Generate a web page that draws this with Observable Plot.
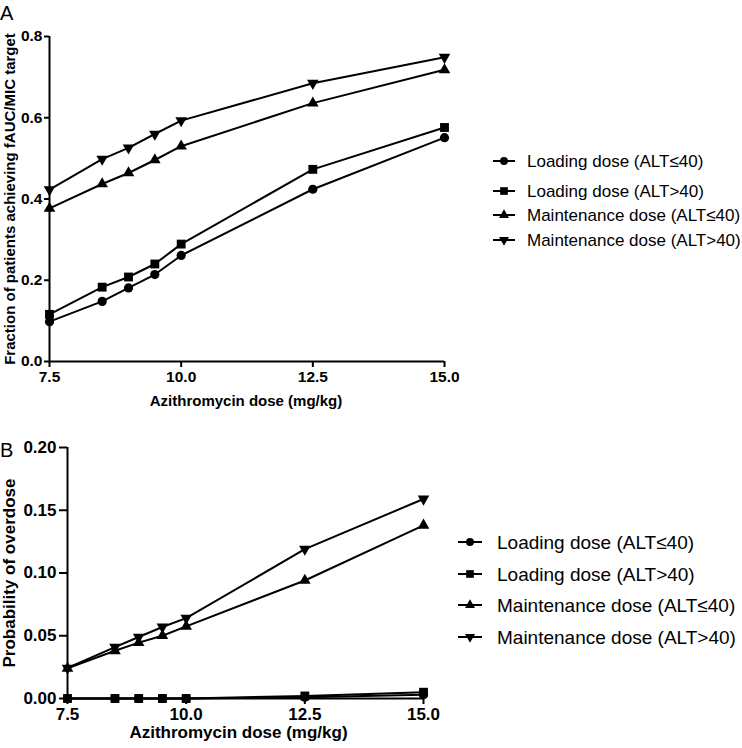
<!DOCTYPE html>
<html>
<head>
<meta charset="utf-8">
<script src="https://cdn.jsdelivr.net/npm/d3@7"></script>
<script src="https://cdn.jsdelivr.net/npm/@observablehq/plot@0.6"></script>
<style>
  html, body { margin: 0; padding: 0; background: #fff; }
  #root { width: 742px; height: 748px; overflow: hidden; }
  svg { display: block; }
</style>
</head>
<body>
<div id="root"></div>
<script>
// ---------- data ----------
const doses = [7.5, 8.5, 9, 9.5, 10, 12.5, 15];
const seriesNames = ["Loading dose (ALT≤40)", "Loading dose (ALT>40)", "Maintenance dose (ALT≤40)", "Maintenance dose (ALT>40)"];
const seriesSymbols = ["circle", "square", "triangle", "triangle-down"];

// Panel A: fraction of patients achieving fAUC/MIC target
const targetLoadLow   = [0.098, 0.148, 0.181, 0.214, 0.261, 0.424, 0.551];
const targetLoadHigh  = [0.116, 0.183, 0.208, 0.240, 0.289, 0.473, 0.576];
const targetMaintLow  = [0.377, 0.437, 0.464, 0.496, 0.530, 0.636, 0.718];
const targetMaintHigh = [0.423, 0.498, 0.526, 0.560, 0.593, 0.685, 0.749];

// Panel B: probability of overdose
const overLoadLow   = [0, 0, 0, 0, 0, 0.001, 0.003];
const overLoadHigh  = [0, 0, 0, 0, 0, 0.002, 0.005];
const overMaintLow  = [0.024, 0.038, 0.0445, 0.050, 0.0575, 0.094, 0.138];
const overMaintHigh = [0.0243, 0.041, 0.049, 0.057, 0.064, 0.119, 0.159];

const xTicks = [7.5, 10, 12.5, 15];
const yTicksA = [0, 0.2, 0.4, 0.6, 0.8];
const yTicksB = [0, 0.05, 0.10, 0.15, 0.20];

const panelLetters = ["A", "B"];
const xTitle = "Azithromycin dose (mg/kg)";
const yTitleA = "Fraction of patients achieving fAUC/MIC target";
const yTitleB = "Probability of overdose";

// ---------- helpers ----------
const FONT = "'Liberation Sans', Arial, Helvetica, sans-serif";

const triangleDown = {
  draw(context, size) {
    const sqrt3 = Math.sqrt(3);
    const y = -Math.sqrt(size / (sqrt3 * 3));
    context.moveTo(0, -y * 2);
    context.lineTo(-sqrt3 * y, y);
    context.lineTo(sqrt3 * y, y);
    context.closePath();
  }
};
function symbolFor(name) {
  if (name === "triangle-down") return triangleDown;
  return name;
}
function d3SymbolFor(name) {
  if (name === "triangle-down") return triangleDown;
  if (name === "circle") return d3.symbolCircle;
  if (name === "square") return d3.symbolSquare;
  return d3.symbolTriangle;
}
const rFor = {circle: 4.6, square: 5.0, triangle: 4.3, "triangle-down": 4.3};

function toRows(values) {
  return values.map((vals, i) => doses.map((d, j) => ({series: seriesNames[i], sym: seriesSymbols[i], dose: d, value: vals[j]}))).flat();
}

function panel(opts) {
  const rows = toRows(opts.values);
  const marks = [
    Plot.ruleY([opts.yDomain[0]], {stroke: "#000", strokeWidth: 2}),
    Plot.ruleX([opts.xDomain[0]], {stroke: "#000", strokeWidth: 2}),
    Plot.axisX({ticks: xTicks, tickFormat: d3.format(".1f"), tickSize: opts.tickSizeX, tickPadding: opts.tickPadX,
      fontSize: opts.tickFont, fontWeight: "bold", strokeWidth: 2, label: null}),
    Plot.axisY({ticks: opts.yTicks, tickFormat: d3.format(opts.yFormat), tickSize: opts.tickSizeY, tickPadding: opts.tickPadY,
      fontSize: opts.tickFont, fontWeight: "bold", strokeWidth: 2, label: null}),
    Plot.line(rows, {x: "dose", y: "value", z: "series", stroke: "#000", strokeWidth: 2}),
    ...seriesSymbols.map(s => Plot.dot(rows.filter(d => d.sym === s),
      {x: "dose", y: "value", symbol: symbolFor(s), r: rFor[s], fill: "#000", stroke: "none"})),
    Plot.text([opts.yTitle], {frameAnchor: "left", dx: opts.yTitleDx, rotate: -90, textAnchor: "middle",
      fontSize: opts.titleFont, fontWeight: "bold", fill: "#000"}),
    Plot.text([xTitle], {frameAnchor: "bottom", dy: opts.xTitleDy, dx: opts.xTitleDx, textAnchor: "middle", lineAnchor: "middle",
      fontSize: opts.titleFont, fontWeight: "bold", fill: "#000"})
  ];
  const svg = Plot.plot({
    width: 742,
    height: opts.height,
    marginTop: opts.mt, marginBottom: opts.mb, marginLeft: opts.ml, marginRight: opts.mr,
    style: {fontFamily: FONT, color: "#000", background: "#fff", overflow: "visible"},
    x: {domain: opts.xDomain},
    y: {domain: opts.yDomain},
    marks
  });

  const sel = d3.select(svg);
  // panel letter
  sel.append("text").attr("x", 0).attr("y", opts.letterY).attr("text-anchor", "start")
    .attr("font-family", FONT).attr("font-size", 20).attr("fill", "#000").text(opts.letter);

  // legend
  const lg = sel.append("g").attr("font-family", FONT).attr("font-size", opts.legendFont)
    .attr("fill", "#000").attr("text-anchor", "start");
  seriesNames.forEach((name, i) => {
    const y = opts.legendY[i];
    const g = lg.append("g").attr("transform", `translate(0,${y})`);
    g.append("line").attr("x1", opts.legendX).attr("x2", opts.legendX + opts.legendLineW)
      .attr("stroke", "#000").attr("stroke-width", 2);
    const s = seriesSymbols[i];
    g.append("path").attr("transform", `translate(${opts.legendX + opts.legendLineW / 2},0)`)
      .attr("d", d3.symbol(d3SymbolFor(s), Math.PI * rFor[s] * rFor[s] * 0.75)()).attr("fill", "#000");
    g.append("text").attr("x", opts.legendTextX).attr("dy", "0.35em").attr("text-anchor", "start").text(name);
  });
  return svg;
}

const root = document.getElementById("root");

root.appendChild(panel({
  values: [targetLoadLow, targetLoadHigh, targetMaintLow, targetMaintHigh],
  height: 412, mt: 36, mb: 51, ml: 49, mr: 298,
  xDomain: [7.5, 15], yDomain: [0, 0.8], yTicks: yTicksA, yFormat: ".1f",
  tickSizeX: 6, tickPadX: 3, tickSizeY: 5, tickPadY: 2, tickFont: 15.5, titleFont: 15,
  yTitle: yTitleA, yTitleDx: -39, xTitleDy: 40, xTitleDx: -1,
  letter: panelLetters[0], letterY: 20,
  legendX: 493, legendLineW: 22, legendTextX: 527, legendFont: 17,
  legendY: [161, 191, 215, 240]
}));

root.appendChild(panel({
  values: [overLoadLow, overLoadHigh, overMaintLow, overMaintHigh],
  height: 336, mt: 35, mb: 50, ml: 67, mr: 319,
  xDomain: [7.5, 15], yDomain: [0, 0.2], yTicks: yTicksB, yFormat: ".2f",
  tickSizeX: 6, tickPadX: 3, tickSizeY: 8, tickPadY: 3, tickFont: 17, titleFont: 17,
  yTitle: yTitleB, yTitleDx: -58, xTitleDy: 34, xTitleDx: -7,
  letter: panelLetters[1], letterY: 45,
  legendX: 458, legendLineW: 24, legendTextX: 497, legendFont: 19,
  legendY: [130, 162, 193, 225]
}));
</script>
</body>
</html>
